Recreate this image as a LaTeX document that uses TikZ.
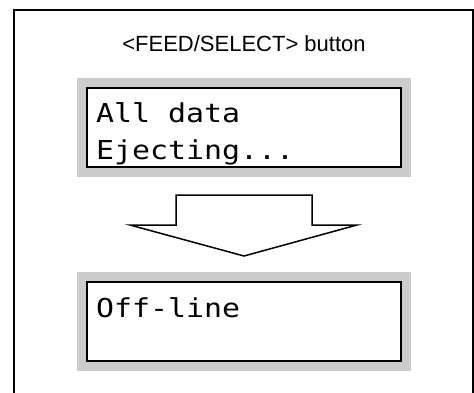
\documentclass[tikz,border=0pt]{standalone}
\usepackage{fontspec}
\setmainfont{Liberation Sans}
\newfontfamily\lcdfont[FakeStretch=1.15]{DejaVu Sans Mono}
\begin{document}
\begin{tikzpicture}[x=1pt,y=-1pt,
  frame/.style={draw=black,line width=2pt},
  bezel/.style={fill=black!20,draw=none},
  screen/.style={fill=white,draw=black,line width=1.8pt},
  lcdtext/.style={anchor=base west,inner sep=0pt,font=\lcdfont\fontsize{26}{30}\selectfont},
  arrowshape/.style={draw=black,line width=1.5pt,fill=white,line join=miter}]
\useasboundingbox (0,0) rectangle (474,392);
\fill[white] (0,0) rectangle (474,392);
% outer frame (open at the bottom edge of the picture)
\draw[frame] (14,395) -- (14,10) -- (473,10) -- (473,395);
% title
\node[anchor=base,inner sep=0pt,font=\fontsize{22}{26}\selectfont] (title) at (244,51) {<FEED/SELECT> button};
% first display
\fill[bezel] (77,78) rectangle (411,177);
\draw[screen] (87,88) rectangle (401,167);
\node[lcdtext] (l1) at (96,122) {All data};
\node[lcdtext] (l2) at (96,159) {Ejecting...};
% arrow
\draw[arrowshape] (130,225) -- (176,225) -- (176,195) -- (312,195) -- (312,225) -- (357,225) -- (244,256) -- cycle;
% second display
\fill[bezel] (77,272) rectangle (411,371);
\draw[screen] (87,282) rectangle (401,361);
\node[lcdtext] (l3) at (96,317) {Off-line};
\end{tikzpicture}
\end{document}
